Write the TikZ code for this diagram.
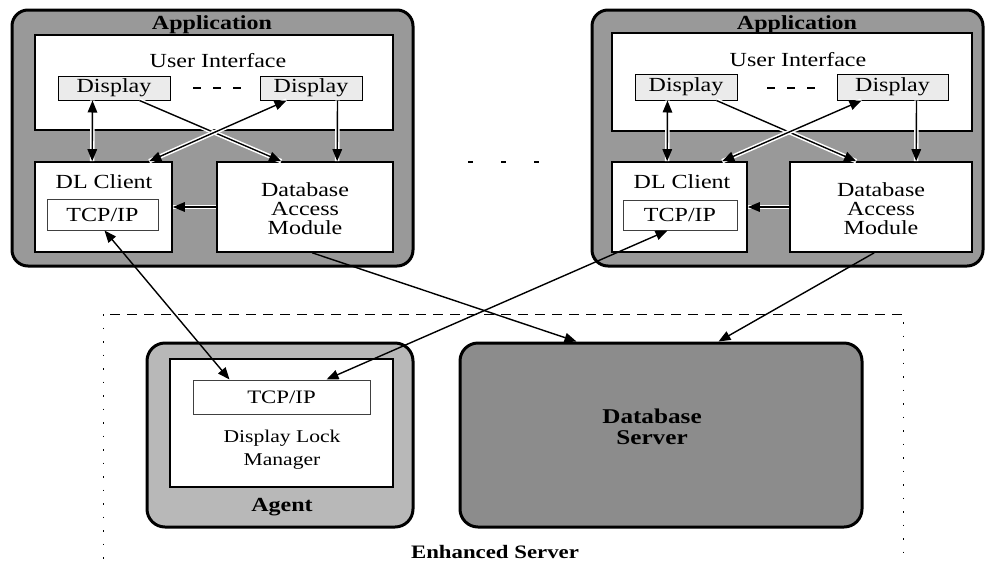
\documentclass[tikz,border=0pt]{standalone}
\usepackage{fontspec}
\setmainfont{Liberation Serif}[FakeStretch=1.2]
\usetikzlibrary{arrows.meta,calc,fit}
\begin{document}
\begin{tikzpicture}[x=1pt,y=-1pt,
  appouter/.style={draw=black, line width=3pt, rounded corners=16pt, fill=black!40, inner sep=0pt},
  agentouter/.style={draw=black, line width=3pt, rounded corners=18pt, fill=black!28, inner sep=0pt},
  dbouter/.style={draw=black, line width=3pt, rounded corners=18pt, fill=black!45, inner sep=0pt},
  inbox/.style={draw=black, line width=1.6pt, fill=white, inner sep=0pt},
  disp/.style={draw=black, line width=1pt, fill=black!8, inner sep=0pt},
  tcp/.style={draw=black!75, line width=1pt, fill=white, inner sep=0pt},
  lbl/.style={font=\fontsize{20}{19}\selectfont, inner sep=0pt, align=center},
  slbl/.style={font=\fontsize{18}{23}\selectfont, inner sep=0pt, align=center},
  blbl/.style={font=\fontsize{20}{20}\selectfont\bfseries, inner sep=0pt, align=center},
  tip/.tip={Triangle[length=12pt,width=9.5pt]},
  conn/.style={draw=black, line width=1.4pt, -tip},
  dconn/.style={draw=black, line width=1.4pt, tip-tip},
  halo/.style={preaction={draw=white, line width=4.5pt, -}}
]
\useasboundingbox (0,0) rectangle (985,563);

% ---------------- Enhanced Server region ----------------
\draw[line width=1pt, dash pattern=on 10pt off 7pt] (110,314) -- (903,314);
\draw[line width=1pt, dash pattern=on 1.5pt off 12pt] (103,314) -- (103,563);
\draw[line width=1pt, dash pattern=on 1.5pt off 12pt] (903,322) -- (903,563);
\node[blbl, font=\fontsize{19}{19}\selectfont\bfseries] (ES) at (495,552) {Enhanced Server};

% ---------------- Left application ----------------
\node[appouter, fit={(12,10)(413,266)}] (La) {};
\node[blbl] (LaT) at (212,25) {Application};
\node[inbox, fit={(35,35)(393,130)}] (Lui) {};
\node[lbl] (LuiT) at (218,61) {User Interface};
\node[disp, fit={(58,76)(170,100)}] (Ld1) {};
\node[lbl] (Ld1T) at (Ld1.center) {Display};
\node[disp, fit={(260,76)(362,100)}] (Ld2) {};
\node[lbl] (Ld2T) at (Ld2.center) {Display};
\draw[line width=2pt, dash pattern=on 8pt off 12pt] (193,88) -- (241,88);
\node[inbox, fit={(35,162)(172,252)}] (Ldl) {};
\node[lbl] (LdlT) at (104,182) {DL Client};
\node[tcp, fit={(47,199)(158,230)}] (Ltcp) {};
\node[lbl] (LtcpT) at (Ltcp.center) {TCP/IP};
\node[inbox, fit={(217,162)(393,252)}] (Ldam) {};
\node[lbl] (LdamT) at ($(Ldam.center)+(0,2)$) {Database\\Access\\Module};

\draw[dconn, halo] ($(Ld1.south west)+(35,0)$) -- ($(Ldl.north west)+(58,0)$);
\draw[conn, halo] ($(Ld1.south west)+(82,0)$) -- ($(Ldam.north west)+(65,0)$);
\draw[dconn, halo] ($(Ld2.south west)+(27,0)$) -- ($(Ldl.north west)+(115,0)$);
\draw[conn, halo] ($(Ld2.south west)+(78,0)$) -- ($(Ldam.north west)+(121,0)$);
\draw[conn, halo] (Ldam.west) -- (Ldl.east);

% ---------------- Right application ----------------
\node[appouter, fit={(592,10)(983,266)}] (Ra) {};
\node[blbl] (RaT) at (797,25) {Application};
\node[inbox, fit={(612,33)(972,131)}] (Rui) {};
\node[lbl] (RuiT) at (798,60) {User Interface};
\node[disp, fit={(635,74)(737,100)}] (Rd1) {};
\node[lbl] (Rd1T) at (Rd1.center) {Display};
\node[disp, fit={(837,74)(948,100)}] (Rd2) {};
\node[lbl] (Rd2T) at (Rd2.center) {Display};
\draw[line width=2pt, dash pattern=on 8pt off 12pt] (767,88) -- (815,88);
\node[inbox, fit={(612,162)(747,252)}] (Rdl) {};
\node[lbl] (RdlT) at (682,182) {DL Client};
\node[tcp, fit={(623,200)(737,230)}] (Rtcp) {};
\node[lbl] (RtcpT) at (Rtcp.center) {TCP/IP};
\node[inbox, fit={(790,162)(972,252)}] (Rdam) {};
\node[lbl] (RdamT) at ($(Rdam.center)+(0,2)$) {Database\\Access\\Module};

\draw[dconn, halo] ($(Rd1.south west)+(33,0)$) -- ($(Rdl.north west)+(56,0)$);
\draw[conn, halo] ($(Rd1.south west)+(82,0)$) -- ($(Rdam.north west)+(67,0)$);
\draw[dconn, halo] ($(Rd2.south west)+(25,0)$) -- ($(Rdl.north west)+(111,0)$);
\draw[conn, halo] ($(Rd2.south west)+(80,0)$) -- ($(Rdam.north west)+(127,0)$);
\draw[conn, halo] (Rdam.west) -- (Rdl.east);

% dots between applications
\draw[line width=2pt, dash pattern=on 5pt off 28pt] (468,162) -- (540,162);

% ---------------- Agent ----------------
\node[agentouter, fit={(147,343)(413,527)}] (Ag) {};
\node[inbox, line width=1.4pt, fit={(170,359)(393,487)}] (Agin) {};
\node[tcp, fit={(193,380)(370,414)}] (Atcp) {};
\node[slbl, font=\fontsize{19}{19}\selectfont] (AtcpT) at (Atcp.center) {TCP/IP};
\node[slbl] (AgT) at (282,450) {Display Lock\\Manager};
\node[blbl] (AgL) at (282,507) {Agent};

% ---------------- Database Server ----------------
\node[dbouter, fit={(460,343)(862,527)}] (DB) {};
\node[blbl, font=\fontsize{21}{21}\selectfont\bfseries] (DBT) at (652,427) {Database\\Server};

% ---------------- connectors between parts ----------------
\draw[dconn] ($(Ltcp.south west)+(58,0)$) -- ($(Atcp.north west)+(37,0)$);
\draw[dconn] ($(Rtcp.south west)+(45,0)$) -- ($(Atcp.north west)+(134,0)$);
\draw[conn] ($(Ldam.south west)+(96,0)$) -- ($(DB.north west)+(118,0)$);
\draw[conn] ($(Rdam.south west)+(85,0)$) -- ($(DB.north west)+(260,0)$);
\end{tikzpicture}
\end{document}
